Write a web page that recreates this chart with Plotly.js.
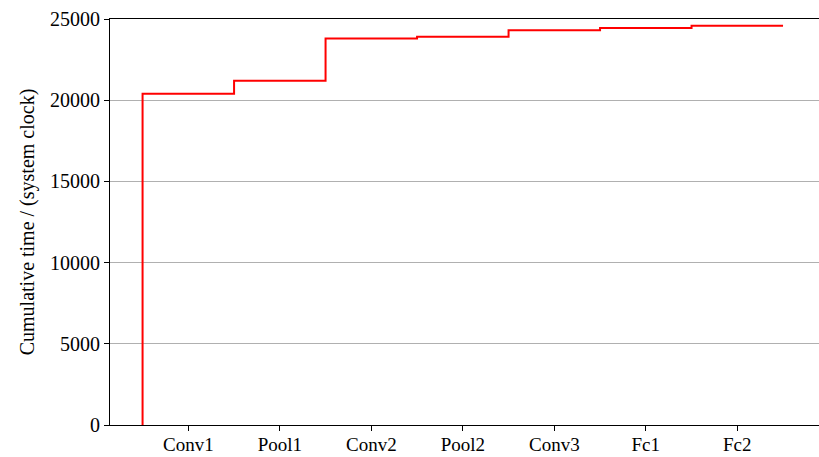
<!DOCTYPE html>
<html>
<head>
<meta charset="utf-8">
<script src="https://cdn.plot.ly/plotly-3.0.1.min.js"></script>
<style>html,body{margin:0;padding:0;overflow:hidden;background:#fff}#chart{width:819px;height:457px}</style>
</head>
<body>
<div id="chart"></div>
<script>
// Layer names (x categories)
const layers = ["Conv1", "Pool1", "Conv2", "Pool2", "Conv3", "Fc1", "Fc2"];
// Cumulative time after each layer (system clock)
const cumulativeTime = [20400, 21200, 23800, 23900, 24300, 24450, 24580];
// Y axis ticks
const yTicks = [0, 5000, 10000, 15000, 20000, 25000];

// Build step edges: each layer occupies [i-0.5, i+0.5]
const idx = layers.map((_, i) => i);
const stepX = [idx[0] - 0.5].concat(idx.map(i => i - 0.5)).concat([idx[idx.length - 1] + 0.5]);
const stepY = [0].concat(cumulativeTime).concat([cumulativeTime[cumulativeTime.length - 1]]);

const font = {family: "Liberation Serif, Times New Roman, serif", size: 20, color: "#000"};

Plotly.newPlot("chart", [{
  x: stepX,
  y: stepY,
  type: "scatter",
  mode: "lines",
  line: {shape: "hv", color: "#ff0000", width: 2},
  hoverinfo: "skip"
}], {
  width: 819,
  height: 457,
  margin: {l: 110, r: 0, t: 19, b: 32},
  paper_bgcolor: "#fff",
  plot_bgcolor: "#fff",
  showlegend: false,
  font: font,
  xaxis: {
    range: [-0.856, 6.893],
    tickvals: idx,
    ticktext: layers,
    showgrid: false,
    zeroline: false,
    showline: true,
    linecolor: "#000",
    linewidth: 1,
    mirror: true,
    ticks: "outside",
    ticklen: 5,
    tickwidth: 1,
    tickcolor: "#000",
    ticklabelstandoff: -3,
    tickfont: {family: font.family, size: 19, color: "#000"}
  },
  yaxis: {
    range: [0, 25000],
    tickvals: yTicks,
    ticktext: yTicks.map(String),
    showgrid: true,
    gridcolor: "#b0b0b0",
    gridwidth: 1,
    zeroline: false,
    showline: true,
    linecolor: "#000",
    linewidth: 1,
    mirror: false,
    ticks: "outside",
    ticklen: 5,
    tickwidth: 1,
    tickcolor: "#000",
    tickfont: font,
    title: {text: "Cumulative time / (system clock)", font: font, standoff: 10}
  }
}, {staticPlot: true, displayModeBar: false});
</script>
</body>
</html>
